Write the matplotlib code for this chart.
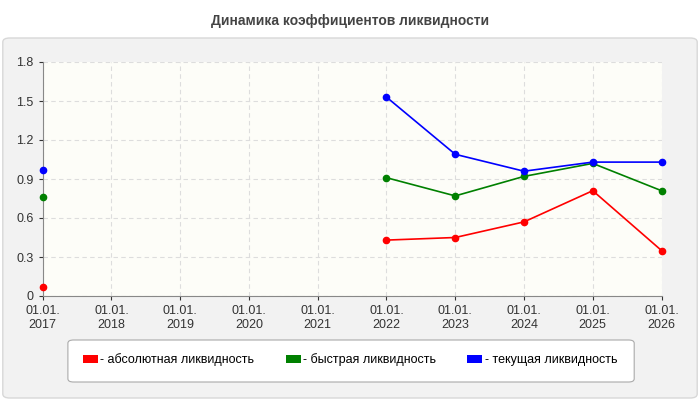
import numpy as np
import matplotlib
matplotlib.use('Agg')
import matplotlib.pyplot as plt
from matplotlib.patches import FancyBboxPatch

years = ['01.01.\n2017', '01.01.\n2018', '01.01.\n2019', '01.01.\n2020', '01.01.\n2021',
         '01.01.\n2022', '01.01.\n2023', '01.01.\n2024', '01.01.\n2025', '01.01.\n2026']
nan = np.nan
absolute = [0.07, nan, nan, nan, nan, 0.43, 0.45, 0.57, 0.81, 0.35]
quick = [0.76, nan, nan, nan, nan, 0.91, 0.77, 0.92, 1.02, 0.81]
current = [0.97, nan, nan, nan, nan, 1.53, 1.09, 0.96, 1.03, 1.03]
series = [('- абсолютная ликвидность', absolute, '#ff0000'),
          ('- быстрая ликвидность', quick, '#008000'),
          ('- текущая ликвидность', current, '#0000ff')]

plt.rcParams['font.family'] = ['Liberation Sans', 'DejaVu Sans']
fig = plt.figure(figsize=(7, 4), dpi=100)
fig.patch.set_facecolor('white')
fig.patches.append(FancyBboxPatch((0.004, 0.005), 0.992, 0.9, boxstyle='round,pad=0,rounding_size=0.01',
                                  transform=fig.transFigure, fc='#f2f2f2', ec='#d8d8d8', lw=1, zorder=-2))
fig.text(0.5, 0.948, 'Динамика коэффициентов ликвидности', ha='center', va='center',
         fontsize=10, fontweight='bold', color='#444444')

ax = fig.add_axes([0.061, 0.26, 0.884, 0.585])
ax.set_facecolor('#fdfdf8')
x = np.arange(len(years))
for nm, vals, col in series:
    ax.plot(x, vals, color=col, lw=1.2, marker='o', ms=4.5, label=nm, clip_on=False, zorder=3)
ax.set_xlim(0, 9)
ax.set_ylim(0, 1.8)
ax.set_yticks([0, 0.3, 0.6, 0.9, 1.2, 1.5, 1.8])
ax.set_yticklabels(['0', '0.3', '0.6', '0.9', '1.2', '1.5', '1.8'])
ax.set_xticks(x)
ax.set_xticklabels(years)
ax.tick_params(labelsize=9, colors='#333333', length=3)
ax.grid(True, ls=(0, (4, 3)), color='#dddddd', lw=0.8)
for s in ['top', 'right']:
    ax.spines[s].set_visible(False)
for s in ['left', 'bottom']:
    ax.spines[s].set_color('#888888')

fig.patches.append(FancyBboxPatch((0.097, 0.045), 0.809, 0.105, boxstyle='round,pad=0,rounding_size=0.008',
                                  transform=fig.transFigure, fc='white', ec='#aaaaaa', lw=0.8, zorder=-1))
handles = [plt.Rectangle((0, 0), 1, 1, fc=c, ec='none') for _, _, c in series]
fig.legend(handles, [s[0] for s in series], loc='center', bbox_to_anchor=(0.5, 0.1), ncol=3,
           frameon=False, fontsize=9, handlelength=1.2, handleheight=0.6, handletextpad=0.2,
           columnspacing=2.5)
fig.savefig('out.png', dpi=100)
